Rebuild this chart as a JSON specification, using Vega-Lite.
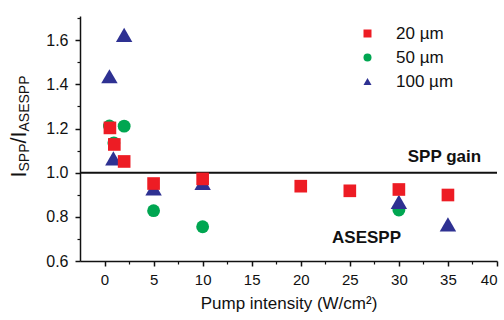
{
  "$schema": "https://vega.github.io/schema/vega-lite/v6.json",
  "width": 417,
  "height": 245,
  "autosize": {"type": "none"},
  "padding": {"left": 80, "top": 16, "right": 7, "bottom": 59},
  "background": "white",
  "config": {
    "font": "Liberation Sans",
    "view": {"stroke": null},
    "axis": {"grid": false, "domainColor": "#111", "tickColor": "#111", "labelColor": "#111", "titleColor": "#111"}
  },
  "data": {
    "values": [
      {"pump": 0.5, "ratio": 1.212, "width": "50 µm"},
      {"pump": 0.95, "ratio": 1.135, "width": "50 µm"},
      {"pump": 2, "ratio": 1.211, "width": "50 µm"},
      {"pump": 5, "ratio": 0.828, "width": "50 µm"},
      {"pump": 10, "ratio": 0.755, "width": "50 µm"},
      {"pump": 30, "ratio": 0.831, "width": "50 µm"},
      {"pump": 0.5, "ratio": 1.437, "width": "100 µm"},
      {"pump": 0.9, "ratio": 1.065, "width": "100 µm"},
      {"pump": 2, "ratio": 1.625, "width": "100 µm"},
      {"pump": 5, "ratio": 0.929, "width": "100 µm"},
      {"pump": 10, "ratio": 0.954, "width": "100 µm"},
      {"pump": 30, "ratio": 0.868, "width": "100 µm"},
      {"pump": 35, "ratio": 0.766, "width": "100 µm"},
      {"pump": 0.55, "ratio": 1.203, "width": "20 µm"},
      {"pump": 1, "ratio": 1.128, "width": "20 µm"},
      {"pump": 2, "ratio": 1.051, "width": "20 µm"},
      {"pump": 5, "ratio": 0.951, "width": "20 µm"},
      {"pump": 10, "ratio": 0.972, "width": "20 µm"},
      {"pump": 20, "ratio": 0.939, "width": "20 µm"},
      {"pump": 25, "ratio": 0.918, "width": "20 µm"},
      {"pump": 30, "ratio": 0.924, "width": "20 µm"},
      {"pump": 35, "ratio": 0.899, "width": "20 µm"}
    ]
  },
  "resolve": {"axis": {"x": "independent", "y": "independent"}},
  "layer": [
    {
      "data": {"values": [{}]},
      "mark": {"type": "rule", "color": "#111", "strokeWidth": 2},
      "encoding": {
        "y": {
          "datum": 1,
          "type": "quantitative",
          "scale": {"domain": [0.6, 1.71], "nice": false, "zero": false},
          "axis": {
            "orient": "left",
            "values": [0.7, 0.9, 1.1, 1.3, 1.5, 1.7],
            "labels": false,
            "domain": false,
            "tickSize": 3,
            "tickWidth": 1.2,
            "title": "SPP",
            "titleFontSize": 14,
            "titleFontWeight": "normal",
            "titleAngle": 270,
            "titleAlign": "left",
            "titleBaseline": "alphabetic",
            "titleX": -52,
            "titleY": 155
          }
        }
      }
    },
    {
      "transform": [{"filter": "datum.width === '50 µm'"}],
      "mark": {"type": "point", "filled": true, "opacity": 1, "size": 165},
      "encoding": {
        "x": {"field": "pump", "type": "quantitative", "axis": null},
        "y": {"field": "ratio", "type": "quantitative", "axis": null},
        "color": {"field": "width", "type": "nominal"},
        "shape": {"field": "width", "type": "nominal"}
      }
    },
    {
      "transform": [{"filter": "datum.width === '100 µm'"}],
      "mark": {"type": "point", "filled": true, "opacity": 1, "size": 270},
      "encoding": {
        "x": {"field": "pump", "type": "quantitative", "axis": null},
        "y": {"field": "ratio", "type": "quantitative", "axis": null},
        "color": {"field": "width", "type": "nominal"},
        "shape": {"field": "width", "type": "nominal"}
      }
    },
    {
      "transform": [{"filter": "datum.width === '20 µm'"}],
      "mark": {"type": "point", "filled": true, "opacity": 1, "size": 160},
      "encoding": {
        "x": {
          "field": "pump",
          "type": "quantitative",
          "scale": {"domain": [-2.5, 40], "nice": false, "zero": false},
          "axis": {
            "orient": "bottom",
            "title": "Pump intensity (W/cm²)",
            "titleFontSize": 17,
            "titleFontWeight": "normal",
            "titlePadding": 8,
            "values": [0, 5, 10, 15, 20, 25, 30, 35, 40],
            "labelFontSize": 15,
            "labelAngle": 0,
            "labelPadding": 6,
            "tickSize": 5,
            "tickWidth": 1.5,
            "domainWidth": 1.5
          }
        },
        "y": {
          "field": "ratio",
          "type": "quantitative",
          "axis": {
            "orient": "left",
            "values": [0.6, 0.8, 1.0, 1.2, 1.4, 1.6],
            "format": ".1f",
            "labelFontSize": 16,
            "labelPadding": 7,
            "tickSize": 5,
            "tickWidth": 1.5,
            "domainWidth": 1.5,
            "title": "I",
            "titleFontSize": 22,
            "titleFontWeight": "normal",
            "titleAngle": 270,
            "titleAlign": "left",
            "titleBaseline": "alphabetic",
            "titleX": -55,
            "titleY": 161
          }
        },
        "color": {
          "field": "width",
          "type": "nominal",
          "scale": {"domain": ["20 µm", "50 µm", "100 µm"], "range": ["#ed1c24", "#00a651", "#2e3192"]},
          "legend": {
            "title": null,
            "orient": "none",
            "legendX": 279,
            "legendY": 9,
            "padding": 0,
            "labelFontSize": 17,
            "labelColor": "#111",
            "symbolSize": 64,
            "rowPadding": 6,
            "labelOffset": 20
          }
        },
        "shape": {
          "field": "width",
          "type": "nominal",
          "scale": {"domain": ["20 µm", "50 µm", "100 µm"], "range": ["square", "circle", "triangle-up"]}
        }
      }
    },
    {
      "data": {"values": [{}]},
      "mark": {"type": "text", "text": "SPP gain", "fontSize": 17, "fontWeight": "bold", "color": "#111", "align": "center", "baseline": "middle"},
      "encoding": {
        "x": {
          "datum": 34.64,
          "type": "quantitative",
          "axis": {
            "orient": "bottom",
            "values": [2.5, 7.5, 12.5, 17.5, 22.5, 27.5, 32.5, 37.5],
            "labels": false,
            "domain": false,
            "tickSize": 3,
            "tickWidth": 1.2,
            "title": null
          }
        },
        "y": {
          "datum": 1.072,
          "type": "quantitative",
          "axis": {
            "orient": "left",
            "labels": false,
            "domain": false,
            "ticks": false,
            "title": "/I",
            "titleFontSize": 22,
            "titleFontWeight": "normal",
            "titleAngle": 270,
            "titleAlign": "left",
            "titleBaseline": "alphabetic",
            "titleX": -55,
            "titleY": 127
          }
        }
      }
    },
    {
      "data": {"values": [{}]},
      "mark": {"type": "text", "text": "ASESPP", "fontSize": 17, "fontWeight": "bold", "color": "#111", "align": "center", "baseline": "middle"},
      "encoding": {
        "x": {"datum": 26.7, "type": "quantitative", "axis": null},
        "y": {
          "datum": 0.703,
          "type": "quantitative",
          "axis": {
            "orient": "left",
            "labels": false,
            "domain": false,
            "ticks": false,
            "title": "ASESPP",
            "titleFontSize": 14,
            "titleFontWeight": "normal",
            "titleAngle": 270,
            "titleAlign": "left",
            "titleBaseline": "alphabetic",
            "titleX": -52,
            "titleY": 115
          }
        }
      }
    }
  ]
}
